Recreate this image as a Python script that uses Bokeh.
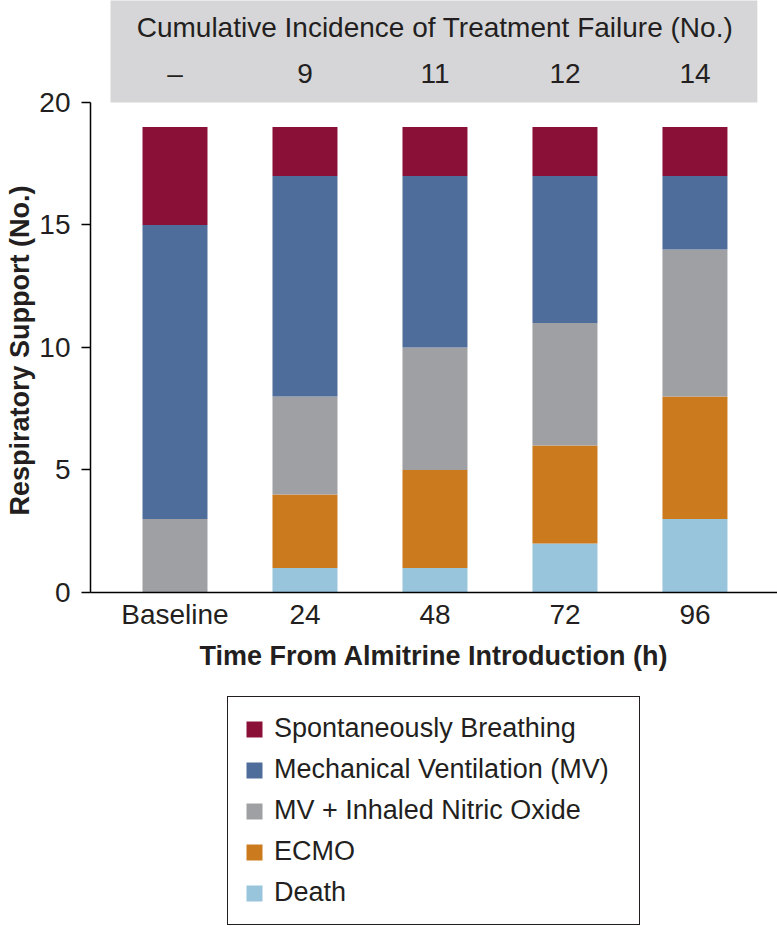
from bokeh.plotting import figure
from bokeh.layouts import column
from bokeh.models import Range1d, FixedTicker, Legend, LegendItem, ColumnDataSource, Title
from bokeh.core.properties import value
from bokeh.embed import file_html
from bokeh.resources import INLINE

categories = ["Baseline", "24", "48", "72", "96"]
failure_counts = ["–", "9", "11", "12", "14"]
series_names = ["Death", "ECMO", "MV + Inhaled Nitric Oxide",
                "Mechanical Ventilation (MV)", "Spontaneously Breathing"]
death = [0, 1, 1, 2, 3]
ecmo = [0, 3, 4, 4, 5]
mv_ino = [3, 4, 5, 5, 6]
mv = [12, 9, 7, 6, 3]
spont = [4, 2, 2, 2, 2]
colors = ["#98c4dc", "#cb7a1e", "#9fa0a4", "#4e6d9a", "#8a1038"]
header_title = "Cumulative Incidence of Treatment Failure (No.)"
x_title = "Time From Almitrine Introduction (h)"
y_title = "Respiratory Support (No.)"

FONT = "Liberation Sans"
TXT = "#231f20"

xs = list(range(len(categories)))
src = ColumnDataSource(dict(x=xs, death=death, ecmo=ecmo, mv_ino=mv_ino, mv=mv, spont=spont,
                            fail=failure_counts))
keys = ["death", "ecmo", "mv_ino", "mv", "spont"]

W = 777
H1 = 694
H2 = 232
p = figure(width=W, height=H1, output_backend="svg", toolbar_location=None,
           x_range=Range1d(-0.65, 4.635), y_range=Range1d(0, 24.16),
           min_border_left=90, min_border_right=0, min_border_top=0, min_border_bottom=H1 - 592)
p.outline_line_color = None
p.grid.visible = False

# header band
p.quad(left=[-0.496], right=[4.48], bottom=[20.0], top=[30], fill_color="#d6d6d8", line_color=None)
p.text(x=[2.0], y=[23.06], text=[header_title], text_font=value(FONT), text_font_size="28px",
       text_align="center", text_baseline="middle", text_color=TXT)
p.text(x="x", y=21.18, text="fail", source=src, text_font=value(FONT), text_font_size="28px",
       text_align="center", text_baseline="middle", text_color=TXT)

p.vbar_stack(keys, x="x", width=0.5, source=src, color=colors, line_color=None)

# axes
xa = p.xaxis[0]
xa.ticker = FixedTicker(ticks=xs)
xa.major_label_overrides = {i: c for i, c in enumerate(categories)}
xa.major_tick_out = 0
xa.major_tick_in = 0
xa.minor_tick_out = 0
xa.minor_tick_in = 0
xa.axis_line_width = 1.5
xa.axis_line_color = "black"
xa.major_label_text_font = FONT
xa.major_label_text_font_size = "28px"
xa.major_label_text_color = TXT
xa.major_label_standoff = 6
xa.axis_label = x_title
xa.axis_label_text_font = FONT
xa.axis_label_text_font_style = "bold"
xa.axis_label_text_font_size = "27px"
xa.axis_label_text_color = TXT
xa.axis_label_standoff = 8

ya = p.yaxis[0]
ya.ticker = FixedTicker(ticks=[0, 5, 10, 15, 20])
ya.bounds = (0, 20)
ya.major_tick_out = 9
ya.major_tick_in = 0
ya.minor_tick_out = 0
ya.minor_tick_in = 0
ya.major_tick_line_width = 1.5
ya.axis_line_width = 1.5
ya.axis_line_color = "black"
ya.major_label_text_font = FONT
ya.major_label_text_font_size = "28px"
ya.major_label_text_color = TXT
ya.major_label_standoff = 11

# y-axis title centred on the 0-20 part of the axis
p.add_layout(Title(text=y_title, align="left", offset=77, standoff=4, text_font=FONT,
                   text_font_style="bold", text_font_size="27px", text_color=TXT), "left")

# legend figure (hidden copies of the stacked bars supply the legend glyphs)
p2 = figure(width=W, height=H2, output_backend="svg", toolbar_location=None,
            x_range=Range1d(100, 101), y_range=Range1d(100, 101),
            x_axis_type=None, y_axis_type=None,
            min_border_left=0, min_border_right=0, min_border_top=0, min_border_bottom=0)
p2.outline_line_color = None
p2.grid.visible = False
leg_r = p2.vbar_stack(keys, x="x", width=0.5, source=src, color=colors, line_color=None)

items = [LegendItem(label=series_names[i], renderers=[leg_r[i]]) for i in [4, 3, 2, 1, 0]]
legend = Legend(items=items, location=(137, 1))
legend.label_text_font = FONT
legend.label_text_font_size = "27px"
legend.label_text_color = TXT
legend.label_width = 349
legend.glyph_width = 20
legend.glyph_height = 20
legend.label_standoff = 10
legend.spacing = 10
legend.padding = 16
legend.margin = 0
legend.border_line_color = "#231f20"
legend.border_line_alpha = 1.0
legend.border_line_width = 1.5
legend.background_fill_alpha = 1
p2.add_layout(legend, "center")

open("out.html", "w").write(file_html(column(p, p2, spacing=0), INLINE))
